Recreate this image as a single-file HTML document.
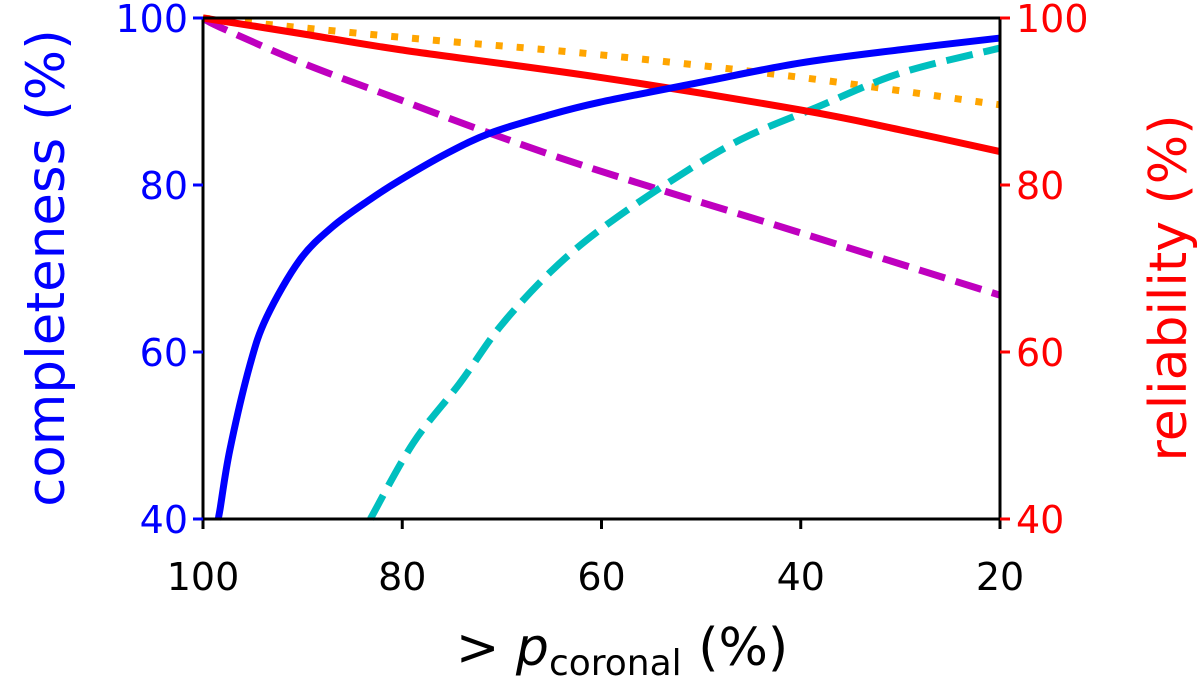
<!DOCTYPE html>
<html><head><meta charset="utf-8"><style>
body{margin:0;background:#fff}
svg{display:block;font-family:"DejaVu Sans","Liberation Sans",sans-serif}
</style></head><body>
<svg id="chart" width="1200" height="682" viewBox="0 0 1200 682">
<g id="series"></g>
<rect x="203" y="18" width="797" height="501" fill="none" stroke="#000" stroke-width="3"/>
<g id="axes"></g>
<text x="64" y="268" transform="rotate(-90 64 268)" text-anchor="middle" font-size="53" fill="#0000ff">completeness (%)</text>
<text x="1186" y="288" transform="rotate(-90 1186 288)" text-anchor="middle" font-size="52" fill="#ff0000">reliability (%)</text>
<text x="622" y="665" text-anchor="middle" font-size="52" fill="#000">&gt; <tspan font-style="italic">p</tspan><tspan font-size="36" dy="10">coronal</tspan><tspan dy="-10"> (%)</tspan></text>
</svg>
<script>
const xTicks=[100,80,60,40,20];
const yTicks=[40,60,80,100];
const blueX=[98.5,98.3,97.3,95.3,93.6,90.3,87.0,83.2,80.2,75.5,71.2,65.5,60.2,50.1,40.1,30,20];
const blueY=[40,41.1,48.3,58.4,64.2,71.0,75.0,78.3,80.6,83.8,86.2,88.3,89.9,92.3,94.6,96.2,97.6];
const cyanX=[83.2,78.9,74.2,70.2,65.2,60.2,53.4,46.1,38.4,30.0,20];
const cyanY=[40,49.1,56.3,63.0,69.5,74.6,80.2,85.4,89.3,93.4,96.4];
const magX=[100,98.3,90,80.2,71.2,60.2,40.1,20];
const magY=[100,98.9,94.6,90.2,86.2,81.7,74.3,66.8];
const redX=[100,90,80.2,60.2,40.1,30.0,20];
const redY=[100,98.1,96.2,92.9,89.0,86.6,84.0];
const orgX=[100,80.2,60.2,40.1,20];
const orgY=[100,97.7,95.6,92.9,89.6];
const NS="http://www.w3.org/2000/svg";
const sx=v=>203+(100-v)/80*797;
const sy=v=>18+(100-v)/60*501;
const sg=document.getElementById('series'),ag=document.getElementById('axes');
function pathD(xs,ys){
  const P=xs.map((x,i)=>[sx(x),sy(ys[i])]);
  let d='M'+P[0][0]+','+P[0][1];
  for(let i=0;i<P.length-1;i++){
    const p0=P[Math.max(i-1,0)],p1=P[i],p2=P[i+1],p3=P[Math.min(i+2,P.length-1)];
    const c1=[p1[0]+(p2[0]-p0[0])/6,p1[1]+(p2[1]-p0[1])/6];
    const c2=[p2[0]-(p3[0]-p1[0])/6,p2[1]-(p3[1]-p1[1])/6];
    d+=' C'+c1[0]+','+c1[1]+' '+c2[0]+','+c2[1]+' '+p2[0]+','+p2[1];
  }
  return d;
}
function line(xs,ys,color,dash,name){
  const p=document.createElementNS(NS,'path');
  p.setAttribute('d',pathD(xs,ys));
  p.setAttribute('fill','none');p.setAttribute('stroke',color);p.setAttribute('stroke-width','7');
  if(dash)p.setAttribute('stroke-dasharray',dash);
  
  
  sg.appendChild(p);
}
line(magX,magY,'#bf00bf','27 11','series-magenta-dashed');
line(orgX,orgY,'#ffa500','7 14','series-orange-dotted');
line(cyanX,cyanY,'#00bfbf','27 11','series-cyan-dashed');
line(redX,redY,'#ff0000','', 'series-red-reliability');
line(blueX,blueY,'#0000ff','', 'series-blue-completeness');
function el(tag,attrs,txt){const e=document.createElementNS(NS,tag);for(const k in attrs)e.setAttribute(k,attrs[k]);if(txt!==undefined)e.textContent=txt;ag.appendChild(e);return e;}
xTicks.forEach(t=>{
  const a=el('line',{x1:sx(t),x2:sx(t),y1:519,y2:529,stroke:'#000','stroke-width':3});
  
  
  const b=el('text',{x:sx(t),y:590,'text-anchor':'middle','font-size':38,fill:'#000'},t);
  
  
});
yTicks.forEach(t=>{
  const a=el('line',{x1:193,x2:203,y1:sy(t),y2:sy(t),stroke:'#0000ff','stroke-width':3});
  
  
  const b=el('text',{x:188,y:sy(t)+14,'text-anchor':'end','font-size':38,fill:'#0000ff'},t);
  
  
  const c=el('line',{x1:1000,x2:1010,y1:sy(t),y2:sy(t),stroke:'#ff0000','stroke-width':3});
  
  
  const d=el('text',{x:1016,y:sy(t)+14,'text-anchor':'start','font-size':38,fill:'#ff0000'},t);
  
  
});
</script>
</body></html>
